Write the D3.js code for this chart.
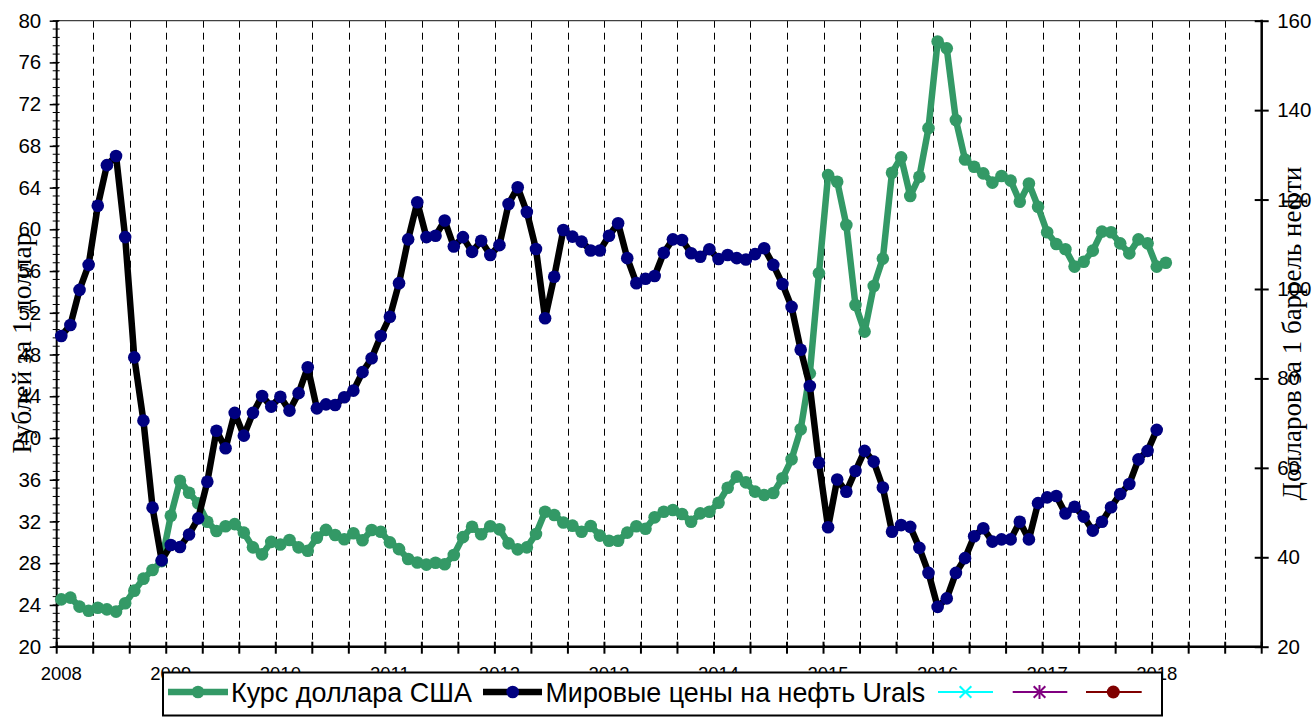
<!DOCTYPE html>
<html><head><meta charset="utf-8">
<script src="https://cdn.jsdelivr.net/npm/d3@7"></script>
<style>body{margin:0;background:#fff}svg{display:block}</style>
</head><body>
<svg id="chart" width="1314" height="717"></svg>
<script>
// ---- data (monthly, starting January 2008) ----
const usdRub = [
  24.54,24.70,23.84,23.45,23.74,23.58,23.36,24.16,25.37,26.52,27.35,28.20,
  32.55,35.90,34.76,33.74,31.98,31.09,31.55,31.75,30.93,29.52,28.85,30.05,
  29.80,30.23,29.52,29.20,30.45,31.20,30.70,30.30,30.87,30.20,31.18,31.02,
  30.00,29.35,28.40,28.07,27.87,28.05,27.90,28.79,30.50,31.50,30.78,31.55,
  31.25,29.90,29.33,29.52,30.80,32.94,32.62,31.90,31.60,31.02,31.57,30.65,
  30.16,30.16,30.93,31.55,31.30,32.40,32.94,33.10,32.72,31.98,32.78,32.94,
  33.80,35.24,36.30,35.75,34.86,34.54,34.73,36.14,37.96,40.84,46.20,55.80,
  65.20,64.57,60.42,52.75,50.20,54.57,57.20,65.43,66.90,63.20,65.05,69.70,
  78.00,77.35,70.48,66.70,66.00,65.37,64.48,65.12,64.67,62.65,64.40,62.17,
  59.72,58.60,58.10,56.43,56.90,57.96,59.78,59.72,58.66,57.70,59.04,58.66,
  56.43,56.80
];
const uralsPrice = [
  89.5,91.95,99.8,105.4,118.6,127.7,129.75,111.6,84.7,70.55,51.1,39.3,
  42.75,42.3,45.1,48.7,56.9,68.3,64.37,72.3,67.2,72.3,76.07,73.7,
  75.9,72.8,76.7,82.5,73.3,74.2,74.06,75.8,77.26,81.4,84.5,89.5,
  93.8,101.3,111.1,119.4,111.6,111.9,115.3,109.5,111.6,108.3,110.8,107.6,
  109.8,119.0,122.75,117.2,108.95,93.45,102.75,113.2,111.7,110.6,108.6,108.6,
  111.9,114.7,106.9,101.3,102.3,102.9,108.1,111.1,110.96,108.0,107.2,108.9,
  106.7,107.6,106.9,106.6,107.8,109.1,105.4,101.1,96.0,86.4,78.3,61.15,
  46.7,57.4,54.67,59.3,63.8,61.4,55.6,45.7,47.2,46.8,42.1,36.5,
  28.9,30.8,36.5,39.8,44.7,46.5,43.5,44.0,44.0,47.96,44.0,52.1,
  53.4,53.7,49.8,51.3,49.1,45.95,47.96,51.2,54.15,56.4,61.9,63.8,
  68.5
];
const yearLabels = ["2008","2009","2010","2011","2012","2013","2014","2015","2016","2017","2018"];
const leftTickValues = [20,24,28,32,36,40,44,48,52,56,60,64,68,72,76,80];
const rightTickValues = [20,40,60,80,100,120,140,160];
const seriesNames = ["Курс доллара США","Мировые цены на нефть Urals"];
const leftTitle = "Рублей за 1 доллар";
const rightTitle = "Долларов за 1 баррель нефти";
const monthCount = 132;   // Jan 2008 .. Dec 2018 categories

// ---- layout ----
const L = 56.7, R = 1261.7, T = 20.7, B = 646.7;
const svg = d3.select("#chart");
svg.append("rect").attr("width",1314).attr("height",717).attr("fill","#fff");

const months = d3.range(monthCount);
const x = d3.scaleBand().domain(months).range([L, R]).padding(0);
const cx = i => x(i) + x.bandwidth()/2;
const yL = d3.scaleLinear().domain([20,80]).range([B,T]);
const yR = d3.scaleLinear().domain([20,160]).range([B,T]);

const sans = "'Liberation Sans', Arial, sans-serif";
const serif = "'Liberation Serif', 'Times New Roman', serif";

// fit a text element's font size so its length matches a target width
function fitText(sel, baseSize, target) {
  const len = sel.node().getComputedTextLength();
  if (len > 0) sel.attr("font-size", baseSize * target / len);
  return sel;
}

// vertical dashed grid every 4 months
const gridMonths = d3.range(4, monthCount, 4);
svg.append("g").selectAll("line").data(gridMonths).join("line")
  .attr("x1", d => Math.round(x(d))+0.5).attr("x2", d => Math.round(x(d))+0.5)
  .attr("y1", T).attr("y2", B)
  .attr("stroke", "#000").attr("stroke-width", 1).attr("stroke-dasharray", "7,5");

// top border
svg.append("line").attr("x1", L).attr("x2", R).attr("y1", T).attr("y2", T)
  .attr("stroke", "#404040").attr("stroke-width", 1.2);

// left axis
const gl = svg.append("g").attr("transform", `translate(${L},0)`)
  .call(d3.axisLeft(yL).tickValues(leftTickValues).tickSizeOuter(0).tickPadding(0));
gl.select(".domain").remove();
gl.selectAll(".tick line").attr("x1", 2).attr("x2", -7).attr("stroke-width", 1.5);
gl.selectAll(".tick text").attr("x", -15.5).attr("font-family", sans).attr("font-size", 20.5).attr("fill", "#000");
svg.append("g").selectAll("line").data(d3.range(20, 80.001, 0.8)).join("line")
  .attr("x1", L-4).attr("x2", L+3).attr("y1", d => yL(d)).attr("y2", d => yL(d))
  .attr("stroke", "#000").attr("stroke-width", 1);
svg.append("line").attr("x1", L).attr("x2", L).attr("y1", T).attr("y2", B)
  .attr("stroke", "#000").attr("stroke-width", 2);

// right axis
const gr = svg.append("g").attr("transform", `translate(${R},0)`)
  .call(d3.axisRight(yR).tickValues(rightTickValues).tickSizeOuter(0).tickPadding(0));
gr.select(".domain").remove();
gr.selectAll(".tick line").attr("x1", -7).attr("x2", 7).attr("stroke-width", 2);
gr.selectAll(".tick text").attr("x", 15.5).attr("font-family", sans).attr("font-size", 20.5).attr("fill", "#000");
svg.append("line").attr("x1", R).attr("x2", R).attr("y1", T-1).attr("y2", B+1)
  .attr("stroke", "#000").attr("stroke-width", 2.5);

// bottom axis
svg.append("g").selectAll("line").data(d3.range(0, monthCount+1, 4)).join("line")
  .attr("x1", d => d < monthCount ? x(d) : R).attr("x2", d => d < monthCount ? x(d) : R)
  .attr("y1", B-5).attr("y2", B+7).attr("stroke", "#000").attr("stroke-width", 2);
svg.append("line").attr("x1", L-1).attr("x2", R+1).attr("y1", B).attr("y2", B)
  .attr("stroke", "#000").attr("stroke-width", 2.5);
svg.append("g").selectAll("text").data(yearLabels).join("text")
  .attr("x", (d, k) => cx(k*12)).attr("y", 680)
  .attr("text-anchor", "middle").attr("font-family", sans).attr("font-size", 18.5)
  .text(d => d);

// series
function drawSeries(values, yScale, lineColor, markerColor) {
  const g = svg.append("g");
  g.append("path").datum(values)
    .attr("d", d3.line().x((d, i) => cx(i)).y(d => yScale(d)))
    .attr("fill", "none").attr("stroke", lineColor).attr("stroke-width", 6.5)
    .attr("stroke-linejoin", "round");
  g.selectAll("circle").data(values).join("circle")
    .attr("cx", (d, i) => cx(i)).attr("cy", d => yScale(d)).attr("r", 6.3)
    .attr("fill", markerColor);
}
drawSeries(usdRub, yL, "#339966", "#339966");
drawSeries(uralsPrice, yR, "#000000", "#000080");

// axis titles
const lt = svg.append("text").attr("transform", "translate(31,343) rotate(-90)")
  .attr("text-anchor", "middle").attr("font-family", serif).attr("font-size", 24)
  .text(leftTitle);
fitText(lt, 24, 221);
const rt = svg.append("text").attr("transform", "translate(1301,333.5) rotate(-90)")
  .attr("text-anchor", "middle").attr("font-family", serif).attr("font-size", 24)
  .text(rightTitle);
fitText(rt, 24, 334);

// legend
const lg = svg.append("g");
lg.append("rect").attr("x", 163).attr("y", 672.5).attr("width", 999).attr("height", 43)
  .attr("fill", "#fff").attr("stroke", "#000").attr("stroke-width", 2);
const ly = 692;
// item 1
lg.append("line").attr("x1", 168).attr("x2", 228).attr("y1", ly).attr("y2", ly)
  .attr("stroke", "#339966").attr("stroke-width", 6.5);
lg.append("circle").attr("cx", 198).attr("cy", ly).attr("r", 6.3).attr("fill", "#339966");
const t1 = lg.append("text").attr("x", 231).attr("y", 701.5).attr("font-family", sans).attr("font-size", 25)
  .text(seriesNames[0]);
fitText(t1, 25, 241);
// item 2
lg.append("line").attr("x1", 483).attr("x2", 542).attr("y1", ly).attr("y2", ly)
  .attr("stroke", "#000").attr("stroke-width", 6.5);
lg.append("circle").attr("cx", 512.7).attr("cy", ly).attr("r", 6.3).attr("fill", "#000080");
const t2 = lg.append("text").attr("x", 545.5).attr("y", 701.5).attr("font-family", sans).attr("font-size", 25)
  .text(seriesNames[1]);
fitText(t2, 25, 380);
// item 3 (cyan, x marker)
lg.append("line").attr("x1", 938).attr("x2", 993).attr("y1", ly).attr("y2", ly)
  .attr("stroke", "#00FFFF").attr("stroke-width", 2);
lg.append("path").attr("d", d3.symbol(d3.symbolX, 90)()).attr("transform", `translate(965.5,${ly})`)
  .attr("fill", "none").attr("stroke", "#00FFFF").attr("stroke-width", 2);
// item 4 (purple, asterisk)
lg.append("line").attr("x1", 1012.7).attr("x2", 1067.3).attr("y1", ly).attr("y2", ly)
  .attr("stroke", "#800080").attr("stroke-width", 2);
lg.append("path").attr("d", d3.symbol(d3.symbolX, 90)()).attr("transform", `translate(1039.5,${ly})`)
  .attr("fill", "none").attr("stroke", "#800080").attr("stroke-width", 2);
lg.append("line").attr("x1", 1039.5).attr("x2", 1039.5).attr("y1", ly-7).attr("y2", ly+7)
  .attr("stroke", "#800080").attr("stroke-width", 2);
// item 5 (dark red, circle)
lg.append("line").attr("x1", 1086).attr("x2", 1141.7).attr("y1", ly).attr("y2", ly)
  .attr("stroke", "#800000").attr("stroke-width", 2);
lg.append("circle").attr("cx", 1113.3).attr("cy", ly).attr("r", 6.5).attr("fill", "#800000");
</script>
</body></html>
